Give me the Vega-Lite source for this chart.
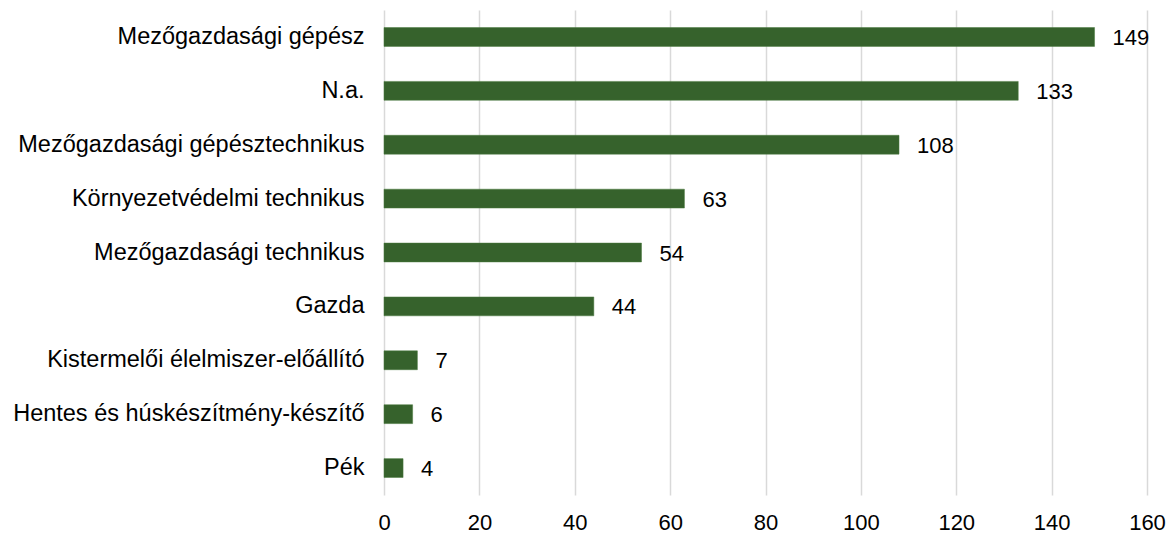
{
  "$schema": "https://vega.github.io/schema/vega-lite/v6.json",
  "autosize": "none",
  "width": 763,
  "height": 485,
  "padding": {"left": 384, "top": 10, "right": 26, "bottom": 44},
  "background": "white",
  "config": {"view": {"stroke": null}, "font": "Liberation Sans"},
  "data": {"values": [
    {"cat": "Mezőgazdasági gépész", "v": 149},
    {"cat": "N.a.", "v": 133},
    {"cat": "Mezőgazdasági gépésztechnikus", "v": 108},
    {"cat": "Környezetvédelmi technikus", "v": 63},
    {"cat": "Mezőgazdasági technikus", "v": 54},
    {"cat": "Gazda", "v": 44},
    {"cat": "Kistermelői élelmiszer-előállító", "v": 7},
    {"cat": "Hentes és húskészítmény-készítő", "v": 6},
    {"cat": "Pék", "v": 4}
  ]},
  "encoding": {
    "y": {"field": "cat", "type": "nominal", "sort": null,
      "scale": {"paddingInner": 0.65, "paddingOuter": 0.325},
      "axis": {"title": null, "domain": false, "ticks": false, "labelFontSize": 23.5, "labelColor": "#000000", "labelPadding": 20, "labelFont": "Liberation Sans", "labelLimit": 400, "labelOverlap": false}},
    "x": {"field": "v", "type": "quantitative",
      "scale": {"domain": [0, 160], "nice": false},
      "axis": {"title": null, "domain": false, "ticks": false, "values": [0,20,40,60,80,100,120,140,160], "labelOverlap": false, "labelFlush": false, "labelFontSize": 22, "labelColor": "#000000", "labelPadding": 17, "gridColor": "#d9d9d9", "gridWidth": 1.5, "labelFont": "Liberation Sans"}}
  },
  "layer": [
    {"mark": {"type": "bar", "color": "#36622c", "stroke": "#4a7a3e", "strokeWidth": 0.5}},
    {"mark": {"type": "text", "align": "left", "baseline": "middle", "dx": 18, "dy": 1, "fontSize": 22, "color": "#000000", "font": "Liberation Sans"},
      "encoding": {"text": {"field": "v", "type": "quantitative"}}}
  ]
}
